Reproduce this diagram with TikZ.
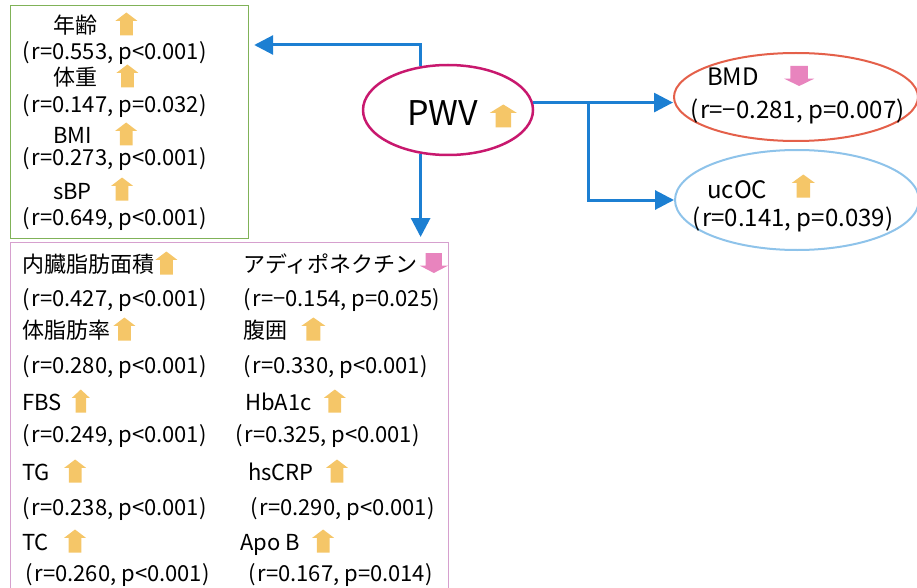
\documentclass[tikz,border=0pt]{standalone}
\usepackage{fontspec}
\setmainfont{Noto Sans CJK JP}
\usetikzlibrary{shapes.geometric,arrows.meta,calc}
\definecolor{grn}{RGB}{128,178,88}
\definecolor{pnkbox}{RGB}{214,160,206}
\definecolor{pwvc}{RGB}{200,24,110}
\definecolor{bmdc}{RGB}{228,96,74}
\definecolor{ucc}{RGB}{142,195,234}
\definecolor{conc}{RGB}{28,127,210}
\definecolor{arrY}{RGB}{245,198,104}
\definecolor{arrP}{RGB}{232,132,190}
% block arrow: name, position, width, height, colour, direction (1 up, -1 down)
\newcommand\blkarr[6]{%
  \coordinate (#1) at #2;
  \fill[#5, shift={(#1)}, xscale=#3/2, yscale=#6*#4/2]
    (0,-1) -- (1,-0.27) -- (0.58,-0.27) -- (0.58,1) -- (-0.58,1) -- (-0.58,-0.27) -- (-1,-0.27) -- cycle;}
\begin{document}
\begin{tikzpicture}[x=1pt,y=-1pt,
  lbl/.style={anchor=west, inner sep=0pt, font=\fontsize{22}{24}\selectfont, text height=18pt, text depth=2pt},
  elbl/.style={lbl, font=\fontsize{24}{26}\selectfont, text height=19pt, text depth=2pt},
  conn/.style={draw=conc, line width=3pt, -{Triangle[length=19pt,width=19pt]}},
  boxn/.style={draw, line width=1.2pt, inner sep=0pt, anchor=north west, fill=none},
  ell/.style={ellipse, draw, inner sep=0pt, fill=white}]
\useasboundingbox (0,0) rectangle (917,588);
% boxes
\node[boxn, draw=grn, minimum width=238pt, minimum height=233pt] (gbox) at (10,5) {};
\node[boxn, draw=pnkbox, minimum width=438pt, minimum height=360pt] (pbox) at (10,242) {};
% ellipses
\node[ell, draw=pwvc, line width=2.5pt, minimum width=170pt, minimum height=90pt] (pwv) at (448,110) {};
\node[ell, draw=bmdc, line width=2pt, minimum width=244pt, minimum height=88pt] (bmd) at (796,97) {};
\node[ell, draw=ucc, line width=2pt, minimum width=244pt, minimum height=100pt] (ucoc) at (797,200) {};
% green box content
\node[lbl] (g1) at (53,26) {年齢};
\blkarr{g1a}{($(g1.east)+(29,-2)$)}{22}{23}{arrY}{1}
\node[lbl] (g2) at (22,52) {(\kern2pt r=0.553, p<0.001)};
\node[lbl] (g3) at (53,78) {体重};
\blkarr{g3a}{($(g3.east)+(30,-2)$)}{22}{23}{arrY}{1}
\node[lbl] (g4) at (22,105) {(\kern2pt r=0.147, p=0.032)};
\node[lbl] (g5) at (53,136) {BMI};
\blkarr{g5a}{($(g5.east)+(34,-2)$)}{22}{23}{arrY}{1}
\node[lbl] (g6) at (22,158) {(\kern2pt r=0.273, p<0.001)};
\node[lbl] (g7) at (53,191) {sBP};
\blkarr{g7a}{($(g7.east)+(30,-2)$)}{22}{23}{arrY}{1}
\node[lbl] (g8) at (22,217) {(\kern2pt r=0.649, p<0.001)};
% PWV
\node[anchor=west, inner sep=0pt, font=\fontsize{34}{36}\selectfont, text height=26pt, text depth=2pt] (pwvt) at (407,114) {PWV};
\blkarr{pwva}{($(pwvt.east)+(25,2)$)}{27}{23}{arrY}{1}
% BMD
\node[elbl] (b1) at (707,77) {BMD};
\blkarr{b1a}{($(b1.east)+(40,-1)$)}{30}{20}{arrP}{-1}
\node[elbl] (b2) at (690,110) {(\kern2pt r=−0.281, p=0.007)};
% ucOC
\node[elbl] (u1) at (707,190) {ucOC};
\blkarr{u1a}{($(u1.east)+(36,-4)$)}{23}{23}{arrY}{1}
\node[elbl] (u2) at (692,218) {(\kern2pt r=0.141, p=0.039)};
% pink box left column
\node[lbl] (p1) at (22,264) {内臓脂肪面積};
\blkarr{p1a}{($(p1.east)+(12,-1)$)}{22}{23}{arrY}{1}
\node[lbl] (p2) at (22,298) {(\kern2pt r=0.427, p<0.001)};
\node[lbl] (p3) at (22,330) {体脂肪率};
\blkarr{p3a}{($(p3.east)+(14,-1)$)}{22}{23}{arrY}{1}
\node[lbl] (p4) at (22,365) {(\kern2pt r=0.280, p<0.001)};
\node[lbl] (p5) at (22,402) {FBS};
\blkarr{p5a}{($(p5.east)+(19,-1)$)}{18}{23}{arrY}{1}
\node[lbl] (p6) at (22,434) {(\kern2pt r=0.249, p<0.001)};
\node[lbl] (p7) at (22,472) {TG};
\blkarr{p7a}{($(p7.east)+(25,-1)$)}{22}{23}{arrY}{1}
\node[lbl] (p8) at (22,507) {(\kern2pt r=0.238, p<0.001)};
\node[lbl] (p9) at (22,542) {TC};
\blkarr{p9a}{($(p9.east)+(26,-1)$)}{22}{23}{arrY}{1}
\node[lbl] (p10) at (25,573) {(\kern2pt r=0.260, p<0.001)};
% pink box right column
\node[lbl] (q1) at (243,264) {アディポネクチン};
\blkarr{q1a}{($(q1.east)+(16,-1)$)}{28}{20}{arrP}{-1}
\node[lbl] (q2) at (243,298) {(\kern2pt r=−0.154, p=0.025)};
\node[lbl] (q3) at (243,330) {腹囲};
\blkarr{q3a}{($(q3.east)+(26,-1)$)}{24}{23}{arrY}{1}
\node[lbl] (q4) at (243,365) {(\kern2pt r=0.330, p<0.001)};
\node[lbl] (q5) at (245,402) {HbA1c};
\blkarr{q5a}{($(q5.east)+(23,-1)$)}{22}{23}{arrY}{1}
\node[lbl] (q6) at (235,434) {(\kern2pt r=0.325, p<0.001)};
\node[lbl] (q7) at (248,472) {hsCRP};
\blkarr{q7a}{($(q7.east)+(23,-1)$)}{22}{23}{arrY}{1}
\node[lbl] (q8) at (250,507) {(\kern2pt r=0.290, p<0.001)};
\node[lbl] (q9) at (240,542) {Apo B};
\blkarr{q9a}{($(q9.east)+(23,-1)$)}{22}{23}{arrY}{1}
\node[lbl] (q10) at (248,573) {(\kern2pt r=0.167, p=0.014)};
% connectors
\coordinate (br) at (588,0);
\draw[conn] (pwv.122) |- ($(gbox.north east)+(5,40)$);
\draw[conn] (pwv.5) -- (pwv.5 -| bmd.west);
\draw[conn] (pwv.5 -| br) |- (ucoc.west);
\draw[conn, shorten >=5pt] (pwv.238) -- (pwv.238 |- pbox.north);
\end{tikzpicture}
\end{document}
